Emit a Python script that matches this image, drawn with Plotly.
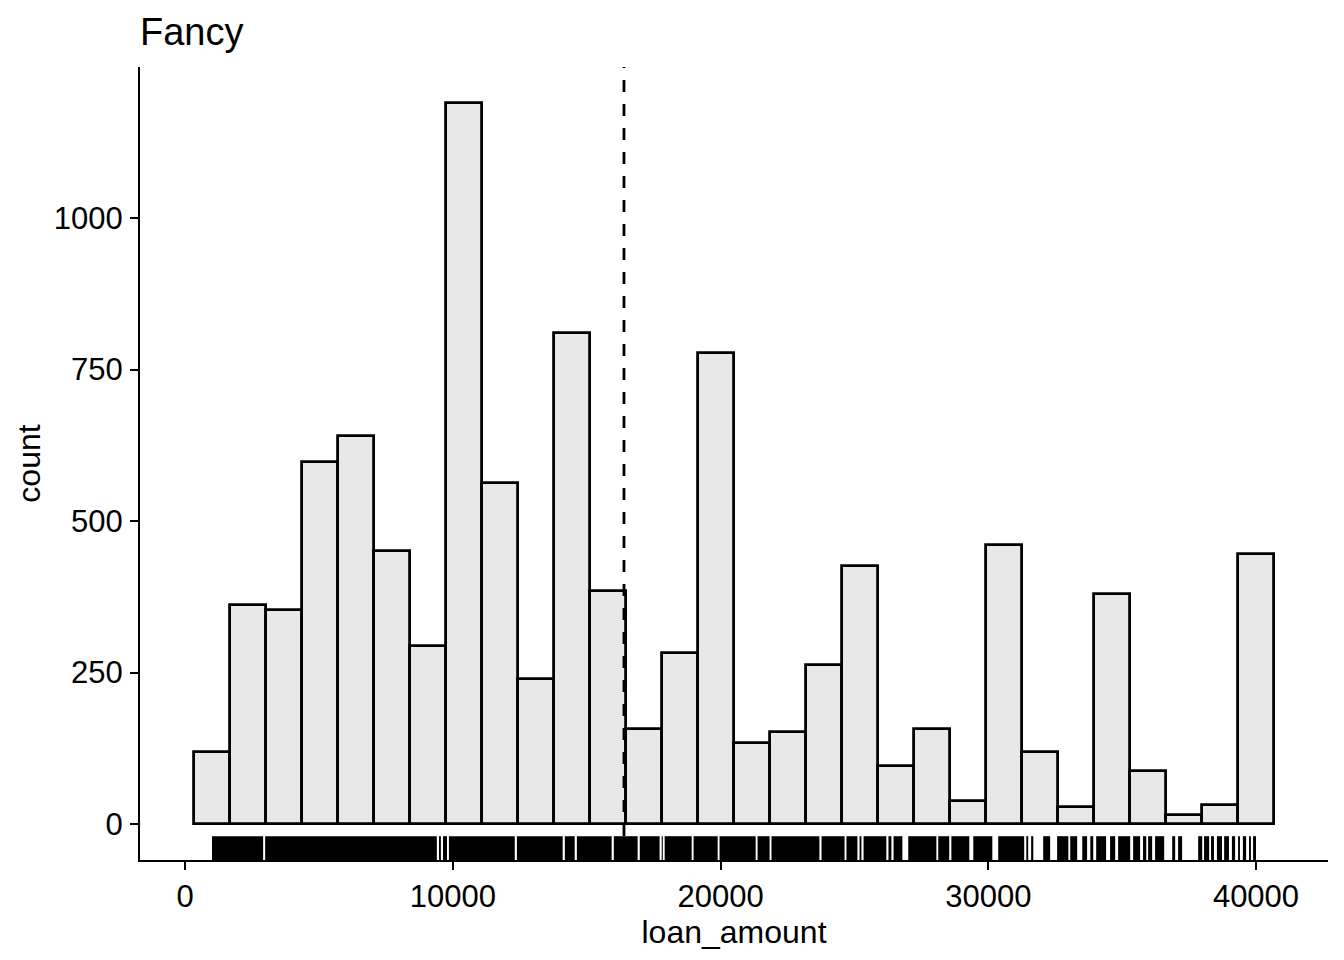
import plotly.graph_objects as go

# histogram of loan_amount, 30 bins between min and max
loan_min = 1000
loan_max = 40000
n_bins = 30
counts = [118, 361, 354, 598, 641, 451, 293, 1190, 562, 240,
          811, 384, 156, 282, 778, 133, 151, 263, 425, 95,
          157, 38, 460, 118, 28, 379, 87, 15, 31, 446]
loan_mean = 16390

# stretches of the rug that are solid (loan_amount values present)
rug_spans = [
    (1000, 2910), (2985, 9400), (9480, 9550), (9630, 9780), (9850, 12310),
    (12390, 14100), (14180, 14550), (14630, 15930), (16010, 16900),
    (16980, 17720), (17800, 17840), (17910, 18920), (18990, 19890),
    (19960, 21310), (21380, 21830), (21900, 23690), (23770, 24630),
    (24700, 25110), (25190, 25260), (25340, 26190), (26270, 26380),
    (26460, 26790), (27010, 28060), (28130, 28540), (28620, 29290),
    (29440, 30150), (30370, 31340), (31420, 31490), (31600, 31680),
    (32050, 32310), (32570, 32990), (33060, 33320), (33510, 33690),
    (33810, 33920), (34030, 34400), (34550, 34740), (34850, 35300),
    (35410, 35670), (35780, 35900), (35970, 36120), (36230, 36570),
    (36870, 36980), (37090, 37240), (37840, 37990), (38060, 38250),
    (38320, 38430), (38540, 38730), (38810, 38990), (39100, 39220),
    (39330, 39400), (39510, 39630), (39740, 39810), (39890, 40000),
]

x_ticks = [0, 10000, 20000, 30000, 40000]
y_ticks = [0, 250, 500, 750, 1000]

binwidth = (loan_max - loan_min) / (n_bins - 1)
centers = [loan_min + i * binwidth for i in range(n_bins)]

FONT = "Liberation Sans, Arial, sans-serif"

fig = go.Figure()

fig.add_trace(go.Bar(
    x=centers, y=counts, width=binwidth,
    marker=dict(color="#E8E8E8", line=dict(color="black", width=2.8)),
    hoverinfo="x+y", showlegend=False
))

# rug along the bottom of the panel
for a, b in rug_spans:
    fig.add_shape(type="rect", xref="x", yref="y domain",
                  x0=a, x1=b, y0=0, y1=0.03,
                  fillcolor="black", line=dict(width=0), layer="above")

# mean line
fig.add_shape(type="line", xref="x", yref="y domain",
              x0=loan_mean, x1=loan_mean, y0=0, y1=1,
              line=dict(color="black", width=2.8, dash="12px,12px"))

x_lo = loan_min - binwidth / 2
x_hi = loan_max + binwidth / 2
x_pad = 0.05 * (x_hi - x_lo)
y_pad = 0.05 * max(counts)

fig.update_layout(
    width=1344, height=960,
    margin=dict(l=140, r=16, t=67, b=100),
    paper_bgcolor="white", plot_bgcolor="white",
    font=dict(family=FONT, size=31, color="black"),
    bargap=0,
    title=dict(text="Fancy", font=dict(size=38, color="black"),
               xref="container", x=140 / 1344, xanchor="left",
               yref="container", y=1 - 32 / 960, yanchor="middle"),
    xaxis=dict(range=[x_lo - x_pad, x_hi + x_pad],
               tickvals=x_ticks, ticktext=[str(v) for v in x_ticks],
               showgrid=False, zeroline=False, automargin=False,
               showline=True, linecolor="black", linewidth=2,
               ticks="outside", ticklen=8, tickwidth=2, tickcolor="black",
               ticklabelstandoff=0,
               title=dict(text="loan_amount", standoff=4,
                          font=dict(size=32))),
    yaxis=dict(range=[-y_pad, max(counts) + y_pad],
               tickvals=y_ticks, ticktext=[str(v) for v in y_ticks],
               showgrid=False, zeroline=False, automargin=False,
               showline=True, linecolor="black", linewidth=2,
               ticks="outside", ticklen=8, tickwidth=2, tickcolor="black",
               ticklabelstandoff=1,
               title=dict(text="count", standoff=4,
                          font=dict(size=32))),
)

# the page body has a default 8px margin; drop it so the figure sits at 0,0
fig.write_html("out.html", config={"displayModeBar": False},
               post_script="document.body.style.margin='0px';")
